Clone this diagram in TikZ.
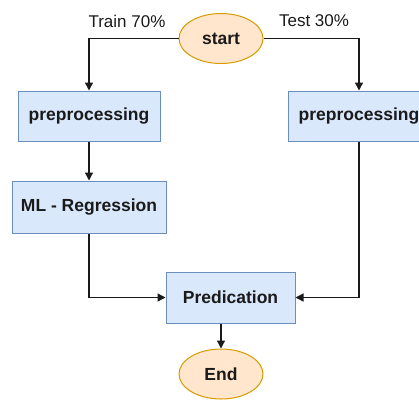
\documentclass[tikz,border=0pt]{standalone}
\usepackage{fontspec}
\setmainfont{Liberation Sans}
\usetikzlibrary{arrows.meta,shapes.geometric}
\definecolor{boxfill}{HTML}{DAE8FC}
\definecolor{boxline}{HTML}{6C8EBF}
\definecolor{ovfill}{HTML}{FFE6CC}
\definecolor{ovline}{HTML}{D79B00}
\definecolor{ink}{HTML}{1A1A1A}
\tikzset{
  procbox/.style={draw=boxline, fill=boxfill, line width=1pt, rectangle, minimum height=50pt, inner sep=0pt, text=ink, font=\fontsize{17.5}{20}\selectfont\bfseries},
  term/.style={draw=ovline, fill=ovfill, line width=1pt, ellipse, minimum width=84pt, minimum height=50pt, inner sep=0pt, text=ink, font=\fontsize{17.5}{20}\selectfont\bfseries},
  lbl/.style={text=ink, inner sep=0pt, font=\fontsize{17}{20}\selectfont},
  conn/.style={draw=ink, line width=1.3pt, -{Triangle[length=8pt,width=8pt]}},
}
\begin{document}
\begin{tikzpicture}[x=1pt,y=-1pt]
\useasboundingbox (0,0) rectangle (419,399);
\node[term] (start) at (221,38.5) {start};
\node[lbl] (train) at (127,21) {Train 70\%};
\node[lbl] (test) at (314,21) {Test 30\%};
\node[procbox, minimum width=142pt] (pre1) at (89,116) {preprocessing};
\node[procbox, minimum width=142pt] (pre2) at (359,116) {preprocessing};
\node[procbox, minimum width=154pt, minimum height=52pt] (mlr) at (89,207) {ML - Regression};
\node[procbox, minimum width=129pt, minimum height=51pt] (pred) at (230.5,297.5) {Predication};
\node[term] (endn) at (221,374) {End};
\draw[conn] (start.west) -| (pre1.north);
\draw[conn] (start.east) -| (pre2.north);
\draw[conn] (pre1.south) -- (mlr.north);
\draw[conn] (mlr.south) |- (pred.west);
\draw[conn] (pre2.south) |- (pred.east);
\draw[conn] (pred.south -| endn.north) -- (endn.north);
\end{tikzpicture}
\end{document}
